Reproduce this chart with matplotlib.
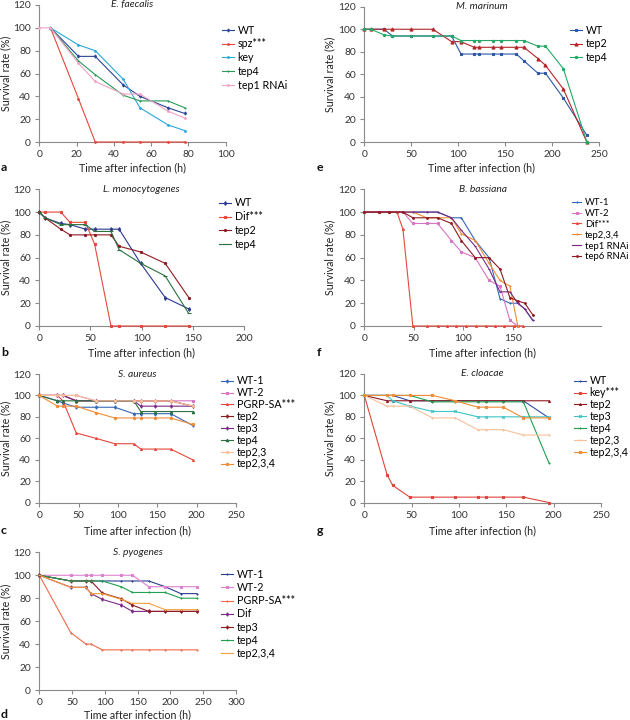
import matplotlib
matplotlib.use("Agg")
import matplotlib.pyplot as plt

plt.rcParams['font.family'] = ['Lato', 'DejaVu Sans']
FS = 7.4

# ---------------- data ----------------
# a: E. faecalis
A_T = [6, 21, 30, 45, 54, 69, 78]
A_WT = [100, 75, 75, 50, 40, 30, 25]
A_SPZ = [100, 38, 0, 0, 0, 0, 0]
A_KEY = [100, 85, 80, 55, 30, 15, 10]
A_TEP4 = [100, 71, 59, 41, 36, 36, 30]
A_T_RNAI = [0, 6, 21, 30, 45, 54, 69, 78]
A_TEP1RNAI = [100, 100, 69, 53, 42, 42, 27, 21]

# e: M. marinum
E_T = [0, 7, 21, 30, 50, 73, 93, 103, 117, 122, 137, 146, 162, 170, 185, 193, 212, 237]
E_WT = [100, 100, 100, 94, 94, 94, 94, 78, 78, 78, 78, 78, 78, 72, 61, 61, 39, 6]
E_TEP2 = [100, 100, 100, 100, 100, 100, 89, 89, 84, 84, 84, 84, 84, 84, 74, 68, 47, 0]
E_TEP4 = [100, 100, 95, 94, 94, 94, 94, 90, 90, 90, 90, 90, 90, 90, 85, 85, 65, 0]

# b: L. monocytogenes
B_T = [0, 5.5, 21, 30, 45, 54, 70, 78, 99, 123, 146]
B_WT = [100, 95, 90, 89, 85, 85, 85, 85, 55, 25, 15]
B_DIF = [100, 100, 100, 91, 91, 72, 0, 0, 0, 0, 0]
B_TEP2 = [100, 95, 85, 80, 80, 80, 80, 70, 65, 55, 25]
B_TEP4 = [100, 95, 89, 89, 89, 83, 83, 67, 55, 44, 11]

# f: B. bassiana
F_T = [0, 15, 25, 39, 49, 63, 74, 88, 98, 112, 126, 137, 147, 155, 162, 170]
F_WT1 = [100, 100, 100, 100, 100, 100, 100, 95, 95, 75, 60, 24, 20, 20, 15, 5]
F_WT2 = [100, 100, 100, 100, 90, 90, 90, 75, 65, 60, 40, 35, 5, 0]
F_TEP234 = [100, 100, 100, 100, 100, 95, 95, 95, 81, 75, 55, 40, 35, 0]
F_TEP1RNAI = [100, 100, 100, 100, 100, 100, 100, 95, 84, 70, 50, 30, 30, 20, 15, 5]
F_TEP6RNAI = [100, 100, 100, 100, 95, 95, 95, 90, 75, 60, 60, 50, 25, 22, 20, 10]
F_T_DIF = [0, 15, 25, 33, 39, 49, 63, 74, 83, 93, 103, 113, 123, 132, 141, 151, 160]
F_DIF = [100, 100, 100, 100, 85, 0, 0, 0, 0, 0, 0, 0, 0, 0, 0, 0, 0]

# c: S. aureus
C_T = [0, 23, 30, 47, 72, 96, 120, 129, 147, 167, 195]
C_WT1 = [100, 95, 93, 89, 89, 89, 83, 83, 83, 83, 72]
C_WT2 = [100, 100, 100, 100, 95, 95, 95, 95, 95, 95, 95]
C_PGRP = [100, 100, 95, 65, 60, 55, 55, 50, 50, 50, 40]
C_TEP2 = [100, 100, 100, 95, 95, 95, 95, 95, 95, 95, 90]
C_TEP3 = [100, 100, 100, 95, 95, 95, 95, 90, 90, 90, 90]
C_TEP4 = [100, 95, 95, 95, 95, 95, 95, 85, 85, 85, 85]
C_TEP23 = [100, 100, 100, 100, 95, 95, 95, 95, 95, 95, 90]
C_TEP234 = [100, 90, 90, 90, 84, 79, 79, 79, 79, 79, 73]

# g: E. cloacae
G_T = [0, 24, 30, 48, 72, 96, 120, 129, 147, 168, 195]
G_WT = [100, 100, 100, 95, 95, 95, 95, 95, 95, 95, 79]
G_KEY = [100, 26, 16, 5, 5, 5, 5, 5, 5, 5, 0]
G_TEP2 = [100, 95, 95, 95, 95, 95, 95, 95, 95, 95, 95]
G_TEP3 = [100, 100, 95, 90, 85, 85, 80, 80, 80, 80, 80]
G_TEP4 = [100, 100, 100, 100, 94, 94, 94, 94, 94, 94, 37]
G_TEP23 = [100, 90, 90, 90, 79, 79, 68, 68, 68, 63, 63]
G_TEP234 = [100, 100, 100, 100, 100, 95, 89, 89, 89, 79, 79]

# d: S. pyogenes
D_T = [0, 48, 71, 79, 96, 125, 142, 167, 192, 216, 240]
D_WT1 = [100, 95, 95, 95, 95, 95, 95, 95, 90, 84, 84]
D_WT2 = [100, 100, 100, 100, 100, 100, 100, 90, 90, 90, 90]
D_PGRP = [100, 50, 40, 40, 35, 35, 35, 35, 35, 35, 35]
D_DIF = [100, 89.5, 89.5, 84, 79, 74, 68.5, 68.5, 68.5, 68.5, 68.5]
D_TEP3 = [100, 95, 95, 95, 84.5, 79.5, 74, 68.5, 68.5, 68.5, 68.5]
D_TEP4 = [100, 95, 95, 95, 95, 90, 85, 85, 85, 80, 80]
D_TEP234 = [100, 89.5, 89.5, 84, 84, 79, 75.5, 75.5, 70, 70, 70]

Y_TICKS = [0, 20, 40, 60, 80, 100, 120]

# colours
NAVY = '#2b4596'
BLUE = '#3468b8'
RED = '#e8473c'
CYAN = '#2aa8d6'
GREEN = '#279b57'
DKGREEN = '#2a7040'
PINK = '#f2a3c6'
MAGENTA = '#d774c4'
MAROON = '#8e1b22'
PURPLE = '#7a2a86'
ORANGE = '#f08c35'
PEACH = '#f7bf9a'
TEAL = '#3cc4c6'
DKRED = '#b3262a'

W, H = 630, 720
fig = plt.figure(figsize=(6.3, 7.2), dpi=100)


def make_axes(left, top, right, bottom, xmax, xticks):
    ax = fig.add_axes([left / W, 1 - bottom / H, (right - left) / W, (bottom - top) / H])
    ax.set_xlim(0, xmax)
    ax.set_ylim(0, 120)
    ax.set_xticks(xticks)
    ax.set_yticks(Y_TICKS)
    for s in ['top', 'right']:
        ax.spines[s].set_visible(False)
    for s in ['left', 'bottom']:
        ax.spines[s].set_color('#8a8a8a')
        ax.spines[s].set_linewidth(0.8)
    ax.tick_params(direction='out', length=3, width=0.8, color='#8a8a8a',
                   labelsize=FS, labelcolor='#333333', pad=3)
    return ax


def series(ax, t, v, color, marker, label, ms=1.8):
    ln, = ax.plot(t, v, color=color, lw=0.8, marker=marker, ms=ms, mew=0.8,
                  label=label, clip_on=False, zorder=3)
    return ln


def decorate(ax, title, letter, letter_x, xlabel_y, ylabel_x, leg_x, leg_y, spacing,
             leg_fs=FS + 0.3, hl=1.1):
    pos = ax.get_position()
    cx = (pos.x0 + pos.x1) / 2
    ax.text(0.5, 1.0, title, transform=ax.transAxes, ha='center', va='center',
            style='italic', fontsize=FS, color='#222222')
    fig.text(cx, 1 - xlabel_y / H, 'Time after infection (h)', ha='center', va='center',
             fontsize=FS + 0.3, color='#222222')
    fig.text(ylabel_x / W, (pos.y0 + pos.y1) / 2, 'Survival rate (%)', rotation=90,
             ha='center', va='center', fontsize=FS + 0.3, color='#222222')
    fig.text(letter_x / W, 1 - xlabel_y / H, letter, ha='left', va='center',
             fontsize=FS + 1.5, fontweight='bold', color='#111111')
    ax.legend(loc='upper left', bbox_to_anchor=(leg_x / W, 1 - leg_y / H),
              bbox_transform=fig.transFigure, frameon=False, fontsize=leg_fs,
              handlelength=hl, handletextpad=0.35, labelspacing=spacing,
              borderpad=0, borderaxespad=0, markerscale=1.0)


# ---- a ----
ax = make_axes(39.3, 5, 225.7, 142, 100, [0, 20, 40, 60, 80, 100])
series(ax, A_T, A_WT, NAVY, 'd', 'WT', 1.6)
series(ax, A_T, A_SPZ, RED, 'o', 'spz***', 1.2)
series(ax, A_T, A_KEY, CYAN, 'o', 'key', 1.2)
series(ax, A_T, A_TEP4, GREEN, '+', 'tep4', 1.8)
series(ax, A_T_RNAI, A_TEP1RNAI, PINK, 'o', 'tep1 RNAi', 1.2)
decorate(ax, 'E. faecalis', 'a', 1, 167.5, 6, 222, 24.5, 0.26)

# ---- e ----
ax = make_axes(364.3, 6.7, 599, 142, 250, [0, 50, 100, 150, 200, 250])
series(ax, E_T, E_WT, '#2d57a8', 's', 'WT', 2.1)
series(ax, E_T, E_TEP2, DKRED, '^', 'tep2', 2.2)
series(ax, E_T, E_TEP4, '#25a866', 'o', 'tep4', 1.6)
decorate(ax, 'M. marinum', 'e', 317, 167.5, 330, 570, 24.5, 0.26)

# ---- b ----
ax = make_axes(39.3, 189.3, 244, 326, 200, [0, 50, 100, 150, 200])
series(ax, B_T, B_WT, '#2b3990', 'd', 'WT', 1.9)
series(ax, B_T, B_DIF, RED, 's', 'Dif***', 2.1)
series(ax, B_T, B_TEP2, MAROON, 'o', 'tep2', 1.5)
series(ax, B_T, B_TEP4, DKGREEN, '_', 'tep4', 2.4)
decorate(ax, 'L. monocytogenes', 'b', 1, 352.8, 6, 219, 197.5, 0.26)

# ---- f ----
ax = make_axes(364.3, 189.3, 601, 326, 239, [0, 50, 100, 150])
series(ax, F_T, F_WT1, BLUE, '+', 'WT-1', 1.8)
series(ax, F_T[:14], F_WT2, MAGENTA, 's', 'WT-2', 1.4)
series(ax, F_T_DIF, F_DIF, RED, '^', 'Dif***', 1.4)
series(ax, F_T[:14], F_TEP234, ORANGE, '+', 'tep2,3,4', 1.8)
series(ax, F_T, F_TEP1RNAI, PURPLE, '_', 'tep1 RNAi', 2.0)
series(ax, F_T, F_TEP6RNAI, MAROON, 'o', 'tep6 RNAi', 1.2)
decorate(ax, 'B. bassiana', 'f', 317, 352.8, 330, 572, 198, 0.2, leg_fs=6.8, hl=1.0)

# ---- c ----
ax = make_axes(39.3, 374, 236, 502.7, 250, [0, 50, 100, 150, 200, 250])
series(ax, C_T, C_WT1, BLUE, 'd', 'WT-1', 1.7)
series(ax, C_T, C_WT2, MAGENTA, 's', 'WT-2', 1.8)
series(ax, C_T, C_PGRP, RED, '^', 'PGRP-SA***', 1.4)
series(ax, C_T, C_TEP2, MAROON, 'd', 'tep2', 1.7)
series(ax, C_T, C_TEP3, PURPLE, 'd', 'tep3', 1.7)
series(ax, C_T, C_TEP4, DKGREEN, '^', 'tep4', 1.8)
series(ax, C_T, C_TEP23, PEACH, 'o', 'tep2,3', 1.5)
series(ax, C_T, C_TEP234, ORANGE, 'o', 'tep2,3,4', 1.6)
decorate(ax, 'S. aureus', 'c', 1, 530.5, 6, 221, 375.5, 0.08)

# ---- g ----
ax = make_axes(364.3, 374, 601, 502.5, 250, [0, 50, 100, 150, 200, 250])
series(ax, G_T, G_WT, '#2f4f9f', '+', 'WT', 1.8)
series(ax, G_T, G_KEY, '#e0453a', 's', 'key***', 1.8)
series(ax, G_T, G_TEP2, MAROON, '^', 'tep2', 1.4)
series(ax, G_T, G_TEP3, TEAL, 'x', 'tep3', 1.8)
series(ax, G_T, G_TEP4, '#22a050', '+', 'tep4', 2.0)
series(ax, G_T, G_TEP23, PEACH, '+', 'tep2,3', 1.8)
series(ax, G_T, G_TEP234, ORANGE, 's', 'tep2,3,4', 1.7)
decorate(ax, 'E. cloacae', 'g', 317, 530.5, 330, 574, 375.5, 0.08)

# ---- d ----
ax = make_axes(39.3, 552.3, 236, 690, 300, [0, 50, 100, 150, 200, 250, 300])
series(ax, D_T, D_WT1, '#2b3f8f', '+', 'WT-1', 2.0)
series(ax, D_T, D_WT2, '#dd80cf', 's', 'WT-2', 1.7)
series(ax, D_T, D_PGRP, '#ef6a4a', '+', 'PGRP-SA***', 1.8)
series(ax, D_T, D_DIF, PURPLE, 'd', 'Dif', 1.7)
series(ax, D_T, D_TEP3, MAROON, 'd', 'tep3', 1.7)
series(ax, D_T, D_TEP4, '#22a050', '+', 'tep4', 2.0)
series(ax, D_T, D_TEP234, '#f5a03a', '_', 'tep2,3,4', 2.0)
decorate(ax, 'S. pyogenes', 'd', 1, 714.5, 6, 221, 569, 0.2)

fig.savefig('out.png', dpi=100)
